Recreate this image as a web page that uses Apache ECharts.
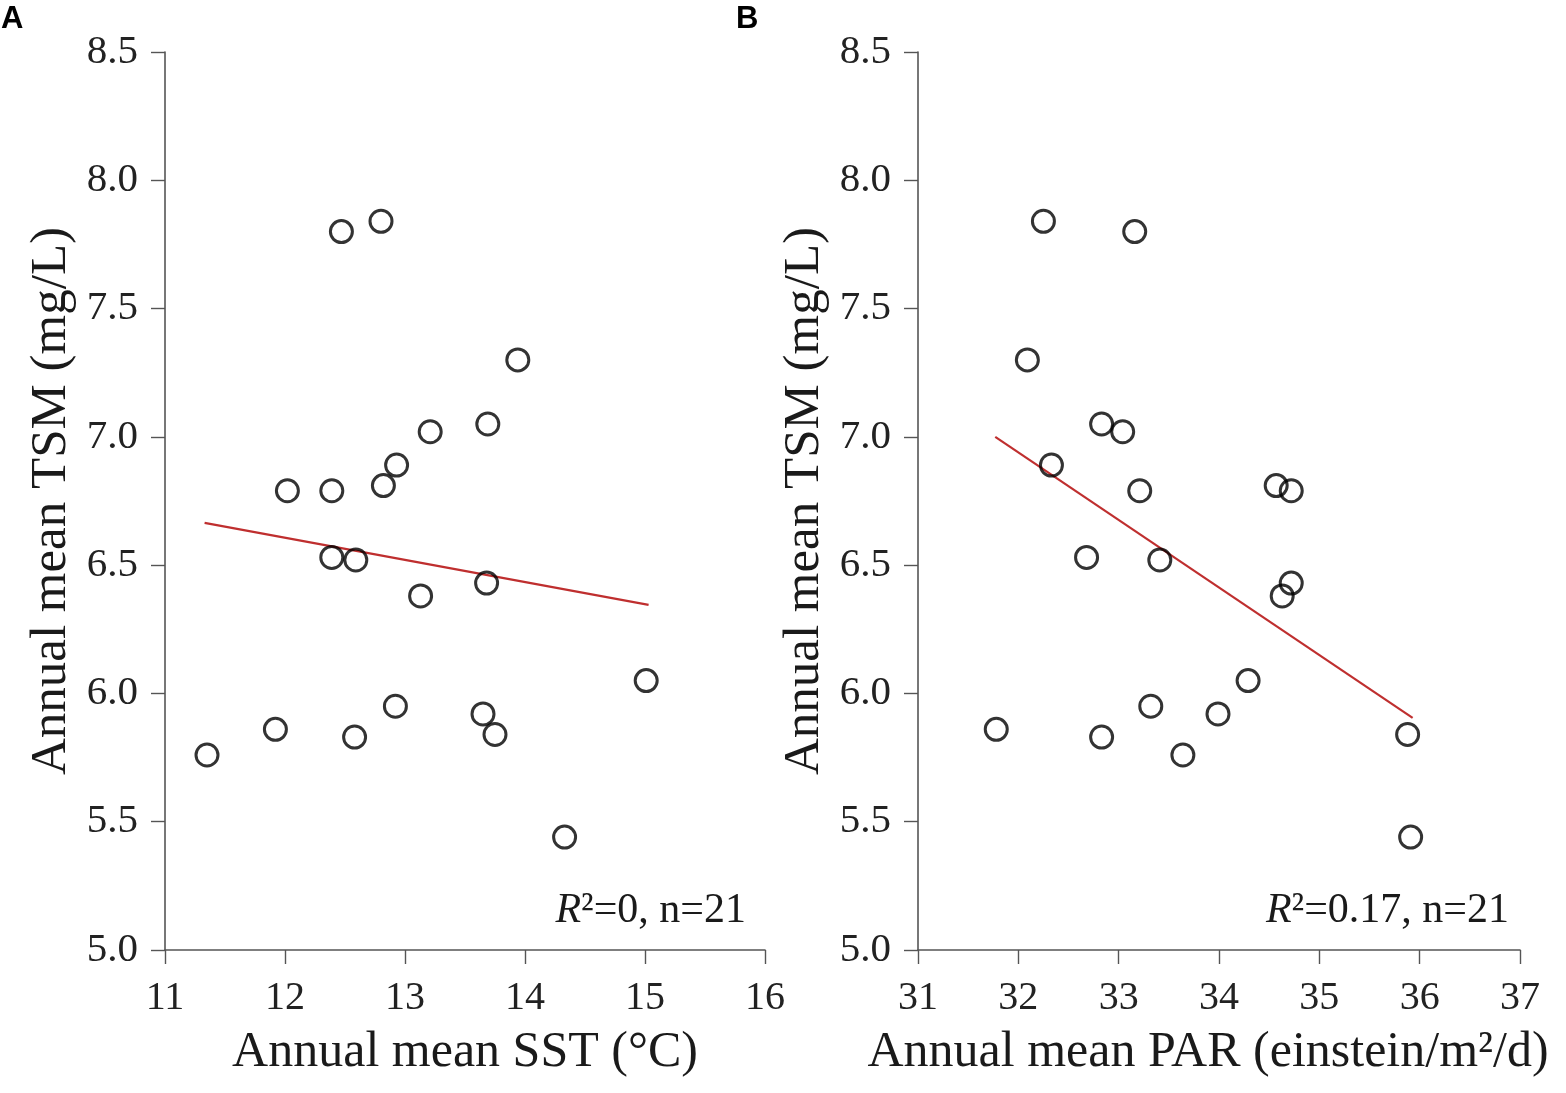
<!DOCTYPE html>
<html>
<head>
<meta charset="utf-8">
<script src="https://cdn.jsdelivr.net/npm/echarts@6/dist/echarts.min.js"></script>
<style>html,body{margin:0;padding:0;background:#fff;}#c{width:1566px;height:1093px;}</style>
</head>
<body>
<div id="c"></div>
<script>
// Panel A: SST vs TSM
const sstX = [11.35, 11.92, 12.02, 12.39, 12.39, 12.47, 12.58, 12.59, 12.80, 12.82, 12.92, 12.93, 13.13, 13.21, 13.65, 13.68, 13.69, 13.75, 13.94, 14.33, 15.01];
const sstY = [5.76, 5.86, 6.79, 6.79, 6.53, 7.80, 5.83, 6.52, 7.84, 6.81, 5.95, 6.89, 6.38, 7.02, 5.92, 6.43, 7.05, 5.84, 7.30, 5.44, 6.05];
const sstFitX = [11.33, 15.03];
const sstFitY = [6.665, 6.345];
// Panel B: PAR vs TSM
const parX = [31.78, 32.09, 32.25, 32.33, 32.68, 32.83, 32.83, 33.04, 33.16, 33.21, 33.32, 33.41, 33.64, 33.99, 34.29, 34.57, 34.63, 34.72, 34.72, 35.88, 35.91];
const parY = [5.86, 7.30, 7.84, 6.89, 6.53, 7.05, 5.83, 7.02, 7.80, 6.79, 5.95, 6.52, 5.76, 5.92, 6.05, 6.81, 6.38, 6.43, 6.79, 5.84, 5.44];
const parFitX = [31.77, 35.93];
const parFitY = [7.00, 5.905];
// Axis ticks / labels
const yTicks = [5.0, 5.5, 6.0, 6.5, 7.0, 7.5, 8.0, 8.5];
const sstTicks = [11, 12, 13, 14, 15, 16];
const parTicks = [31, 32, 33, 34, 35, 36, 37];
const yName = 'Annual mean TSM (mg/L)';
const xNameA = 'Annual mean SST (°C)';
const xNameB = 'Annual mean PAR (einstein/m²/d)';
const statA = ['R', '²=0, n=21'];
const statB = ['R', '²=0.17, n=21'];
const panelLabels = ['A', 'B'];

const serif = 'Liberation Serif, Times New Roman, serif';
const zip = (a, b) => a.map((v, i) => [v, b[i]]);

function xAxisFor(ticks, name, gridIndex, pad) {
  return {
    type: 'value', gridIndex: gridIndex,
    min: ticks[0], max: ticks[ticks.length - 1], interval: 1,
    name: name, nameLocation: 'middle', nameGap: 78,
    nameTextStyle: { fontFamily: serif, fontSize: 50, color: '#1a1a1a', padding: pad },
    axisLine: { show: true, onZero: false, lineStyle: { color: '#555', width: 1.6 } },
    axisTick: { show: true, inside: false, length: 14, lineStyle: { color: '#555', width: 1.4 } },
    axisLabel: { fontFamily: serif, fontSize: 40, color: '#222', margin: 28 },
    splitLine: { show: false }
  };
}
function yAxisFor(gridIndex) {
  return {
    type: 'value', gridIndex: gridIndex,
    min: yTicks[0], max: yTicks[yTicks.length - 1], interval: 0.5,
    name: yName, nameLocation: 'middle', nameGap: 88,
    nameTextStyle: { fontFamily: serif, fontSize: 51, color: '#1a1a1a' },
    axisLine: { show: true, onZero: false, lineStyle: { color: '#555', width: 1.6 } },
    axisTick: { show: true, inside: false, length: 14, lineStyle: { color: '#555', width: 1.4 } },
    axisLabel: { fontFamily: serif, fontSize: 41, color: '#222', margin: 27, formatter: v => v.toFixed(1) },
    splitLine: { show: false }
  };
}
function scatterSeries(x, y, idx) {
  return {
    type: 'scatter', xAxisIndex: idx, yAxisIndex: idx,
    data: zip(x, y), symbol: 'circle', symbolSize: 22,
    itemStyle: { color: 'rgba(255,255,255,0)', borderColor: '#000', borderWidth: 3 },
    z: 3
  };
}
function fitSeries(x, y, idx) {
  return {
    type: 'line', xAxisIndex: idx, yAxisIndex: idx,
    data: zip(x, y), symbol: 'none',
    lineStyle: { color: '#bf2f2f', width: 2.2 }, z: 2
  };
}
function statText(parts, right) {
  return {
    type: 'text', right: right, top: 890,
    style: {
      text: '{i|' + parts[0] + '}{n|' + parts[1] + '}',
      rich: {
        i: { fontFamily: serif, fontSize: 42, fontStyle: 'italic', fill: '#1a1a1a' },
        n: { fontFamily: serif, fontSize: 42, fill: '#1a1a1a' }
      }
    }
  };
}

const chart = echarts.init(document.getElementById('c'));
chart.setOption({
  animation: false,
  backgroundColor: '#fff',
  grid: [
    { left: 165, right: 801, top: 52, bottom: 143 },
    { left: 918, right: 46, top: 52, bottom: 143 }
  ],
  xAxis: [xAxisFor(sstTicks, xNameA, 0, [0, 0, 0, 0]), xAxisFor(parTicks, xNameB, 1, [0, 22, 0, 0])],
  yAxis: [yAxisFor(0), yAxisFor(1)],
  series: [
    fitSeries(sstFitX, sstFitY, 0),
    scatterSeries(sstX, sstY, 0),
    fitSeries(parFitX, parFitY, 1),
    scatterSeries(parX, parY, 1)
  ],
  graphic: [
    { type: 'text', left: 1, top: 4, style: { text: panelLabels[0], fontFamily: 'Liberation Sans, Arial, sans-serif', fontWeight: 'bold', fontSize: 31, fill: '#000' } },
    { type: 'text', left: 736, top: 4, style: { text: panelLabels[1], fontFamily: 'Liberation Sans, Arial, sans-serif', fontWeight: 'bold', fontSize: 31, fill: '#000' } },
    statText(statA, 1566 - 746),
    statText(statB, 1566 - 1509)
  ]
});
</script>
</body>
</html>
